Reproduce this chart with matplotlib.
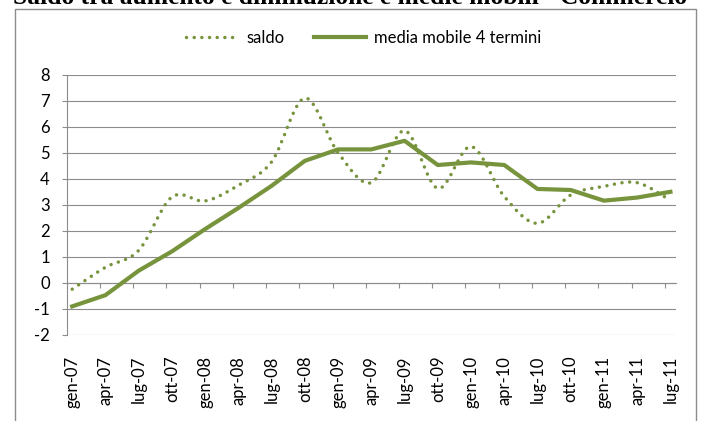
import numpy as np
import matplotlib
matplotlib.use('Agg')
import matplotlib.pyplot as plt
from matplotlib.path import Path
from matplotlib.patches import PathPatch, Rectangle
from matplotlib.lines import Line2D

plt.rcParams['font.family'] = ['Lato', 'DejaVu Sans']
plt.rcParams['axes.unicode_minus'] = False

periodi = ['gen-07', 'apr-07', 'lug-07', 'ott-07', 'gen-08', 'apr-08', 'lug-08', 'ott-08',
           'gen-09', 'apr-09', 'lug-09', 'ott-09', 'gen-10', 'apr-10', 'lug-10', 'ott-10',
           'gen-11', 'apr-11', 'lug-11']
saldo = [-0.24, 0.6, 1.25, 3.3, 3.15, 3.75, 4.65, 7.1, 5.0, 3.85, 5.85, 3.63, 5.24,
         3.32, 2.29, 3.38, 3.71, 3.85, 3.17]
media_mobile = [-0.90, -0.47, 0.47, 1.21, 2.07, 2.88, 3.73, 4.69, 5.13, 5.13, 5.46,
                4.53, 4.63, 4.53, 3.61, 3.57, 3.16, 3.28, 3.50]

titolo = 'Saldo tra aumento e diminuzione e medie mobili - Commercio'
verde = '#77933C'
grigio = '#8C8C8C'

# asse a date: un posto per mese, dati trimestrali
x = np.arange(len(periodi)) * 3


def curva_smussata(xs, ys):
    # linea smussata stile Excel (bezier tipo catmull-rom)
    p = np.column_stack([xs, ys]).astype(float)
    n = len(p)
    verts = [p[0]]
    codes = [Path.MOVETO]
    for i in range(n - 1):
        p0 = p[max(i - 1, 0)]
        p1 = p[i]
        p2 = p[i + 1]
        p3 = p[min(i + 2, n - 1)]
        verts += [p1 + (p2 - p0) / 6, p2 - (p3 - p1) / 6, p2]
        codes += [Path.CURVE4] * 3
    return Path(verts, codes)


fig = plt.figure(figsize=(7.01, 4.21), dpi=100)
ax = fig.add_axes([0.0951, 0.2043, 0.8692, 0.6183])

stile_punti = (0, (0.01, 2.2))
patch = PathPatch(curva_smussata(x, saldo), fill=False, edgecolor=verde, lw=2.5,
                  linestyle=stile_punti, capstyle='round', zorder=3)
ax.add_patch(patch)
ax.plot(x, media_mobile, color=verde, lw=3, zorder=4)

ax.set_xlim(-0.5, 54.5)
ax.set_ylim(-2, 8)
ax.set_yticks(range(-2, 9))
ax.yaxis.grid(True, color=grigio, lw=0.8)
ax.set_axisbelow(True)

for s in ['top', 'right']:
    ax.spines[s].set_visible(False)
ax.spines['left'].set_color(grigio)
ax.spines['left'].set_linewidth(0.8)
ax.spines['bottom'].set_position(('data', 0))
ax.spines['bottom'].set_color(grigio)
ax.spines['bottom'].set_linewidth(0.8)

ax.set_xticks(x)
ax.set_xticklabels(periodi, rotation=90)
ax.set_xticks(np.arange(2.5, 54, 3), minor=True)
ax.tick_params(axis='x', which='major', length=0, pad=52.5, labelsize=12)
ax.tick_params(axis='x', which='minor', length=3.6, width=0.8, color=grigio)
ax.tick_params(axis='y', length=3.6, width=0.8, color=grigio, pad=8.5, labelsize=12)

maniglie = [Line2D([], [], color=verde, lw=2.5, linestyle=stile_punti, dash_capstyle='round'),
            Line2D([], [], color=verde, lw=3)]
fig.legend(maniglie, ['saldo', 'media mobile 4 termini'], loc='center',
           bbox_to_anchor=(0.519, 1 - 38 / 421), ncol=2, frameon=False,
           handlelength=3.1, handletextpad=0.5, columnspacing=1.8, fontsize=12)

bordo = Rectangle((14.7 / 701, -0.1), (696 - 14.7) / 701, 1.1 - 9.5 / 421,
                  transform=fig.transFigure, fill=False, edgecolor=grigio, lw=1.0)
fig.add_artist(bordo)

fig.text(0.5, 1 - 4 / 421, titolo, ha='center', va='baseline', fontsize=18.4,
         fontweight='bold', family=['Liberation Serif', 'DejaVu Serif'])

fig.savefig('out.png', dpi=100)
